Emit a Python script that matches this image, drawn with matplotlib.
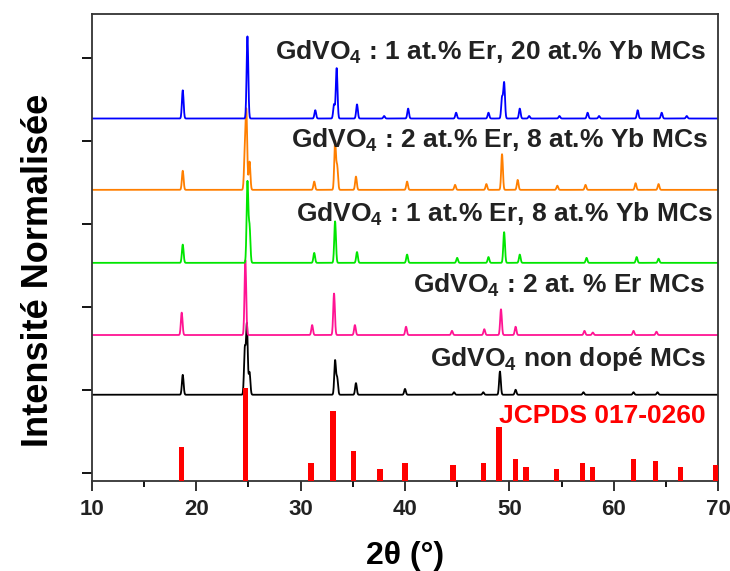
import numpy as np
import matplotlib
matplotlib.use("Agg")
import matplotlib.pyplot as plt

plt.rcParams['font.family'] = ['Liberation Sans', 'DejaVu Sans']
plt.rcParams['font.weight'] = 'bold'
plt.rcParams['mathtext.default'] = 'regular'

# reference pattern JCPDS 017-0260 (2theta, relative height)
ref_pos = [18.6, 24.7, 31.0, 33.1, 35.1, 37.6, 40.0, 44.6, 47.5, 49.0,
           50.6, 51.6, 54.5, 57.0, 58.0, 61.9, 64.0, 66.4, 69.8]
ref_h = [0.41, 1.12, 0.22, 0.84, 0.36, 0.14, 0.22, 0.19, 0.22, 0.65,
         0.27, 0.17, 0.14, 0.22, 0.17, 0.27, 0.24, 0.17, 0.19]

# peaks read for each sample (2theta, height above its baseline)
black_pos = [18.7, 24.65, 24.85, 25.1, 33.3, 33.5, 35.3, 40.0, 44.7, 47.5,
             49.1, 50.6, 57.1, 61.9, 64.2]
black_h = [0.24, 0.55, 0.84, 0.27, 0.41, 0.2, 0.14, 0.07, 0.03, 0.03,
           0.28, 0.06, 0.03, 0.03, 0.03]

pink_pos = [18.6, 24.7, 31.1, 33.2, 35.2, 40.1, 44.5, 47.6, 49.2, 50.6,
            57.2, 58.0, 61.9, 64.1]
pink_h = [0.27, 0.9, 0.12, 0.5, 0.12, 0.1, 0.05, 0.07, 0.31, 0.1,
          0.05, 0.03, 0.05, 0.04]

green_pos = [18.7, 24.9, 25.1, 31.3, 33.3, 35.4, 40.2, 45.0, 48.0, 49.5,
             51.0, 57.4, 62.2, 64.3]
green_h = [0.22, 0.97, 0.43, 0.12, 0.5, 0.13, 0.1, 0.06, 0.07, 0.37,
           0.1, 0.06, 0.07, 0.05]

orange_pos = [18.7, 24.65, 24.8, 25.1, 31.3, 33.3, 33.5, 35.3, 40.2, 44.8,
              47.8, 49.3, 50.8, 54.6, 57.3, 62.1, 64.3]
orange_h = [0.23, 0.42, 0.9, 0.34, 0.1, 0.58, 0.28, 0.16, 0.1, 0.06,
            0.07, 0.43, 0.12, 0.05, 0.06, 0.08, 0.07]

blue_pos = [18.7, 24.9, 31.4, 33.2, 33.45, 35.4, 38.0, 40.3, 44.9, 48.0,
            49.3, 49.5, 51.0, 51.9, 54.8, 57.5, 58.6, 62.3, 64.6, 67.0]
blue_h = [0.34, 0.99, 0.1, 0.17, 0.61, 0.17, 0.03, 0.12, 0.07, 0.07,
          0.25, 0.43, 0.12, 0.03, 0.03, 0.07, 0.03, 0.1, 0.07, 0.03]

offsets = [1.04, 1.76, 2.63, 3.51, 4.37]
colors = ['black', '#ff1493', '#00e600', '#ff7f00', '#0000ff']
peaks = [(black_pos, black_h), (pink_pos, pink_h), (green_pos, green_h),
         (orange_pos, orange_h), (blue_pos, blue_h)]

labels = [r'GdVO$_4$ non dopé MCs',
          r'GdVO$_4$ : 2 at. % Er MCs',
          r'GdVO$_4$ : 1 at.% Er, 8 at.% Yb MCs',
          r'GdVO$_4$ : 2 at.% Er, 8 at.% Yb MCs',
          r'GdVO$_4$ : 1 at.% Er, 20 at.% Yb MCs']
label_x = [68.8, 68.8, 69.5, 69.0, 68.9]
label_y = [1.39, 2.27, 3.13, 4.02, 5.08]

fig = plt.figure(figsize=(7.3, 5.71), dpi=100)
ax = fig.add_axes([0.126, 0.1576, 0.8576, 0.8179])

two_theta = np.arange(10, 70.001, 0.02)
for (pos, h), off, c in zip(peaks, offsets, colors):
    y = np.full_like(two_theta, off)
    for p, hh in zip(pos, h):
        y += hh * np.exp(-0.5 * ((two_theta - p) / 0.08) ** 2)
    ax.plot(two_theta, y, color=c, lw=1.3)

ax.bar(ref_pos, ref_h, width=0.5, color='red', zorder=3)

txt_color = '#222222'
for s, xx, yy in zip(labels, label_x, label_y):
    ax.text(xx, yy, s, ha='right', va='baseline', fontsize=19,
            fontweight='bold', color=txt_color)
ax.text(68.8, 0.70, 'JCPDS 017-0260', ha='right', va='baseline',
        fontsize=19, fontweight='bold', color='red')

ax.set_xlim(10, 70)
ax.set_ylim(0, 5.63)
ax.set_xticks(range(10, 71, 10))
ax.set_xticks(range(15, 70, 10), minor=True)
ax.set_yticks([0.1, 1.1, 2.1, 3.1, 4.1, 5.1])
ax.set_yticklabels([])
ax.tick_params(axis='x', which='major', length=7, width=1.3, labelsize=16,
               colors='#222222', pad=6)
ax.tick_params(axis='x', which='minor', length=4, width=1.3)
ax.tick_params(axis='y', length=7, width=1.3)
for sp in ax.spines.values():
    sp.set_linewidth(1.3)
    sp.set_color('#333333')

ax.set_xlabel('2θ (°)', fontsize=23, fontweight='bold', labelpad=15)
ax.set_ylabel('Intensité Normalisée', fontsize=26, fontweight='bold')
ax.yaxis.set_label_coords(-0.058, 0.45)

fig.savefig('out.png', dpi=100)
